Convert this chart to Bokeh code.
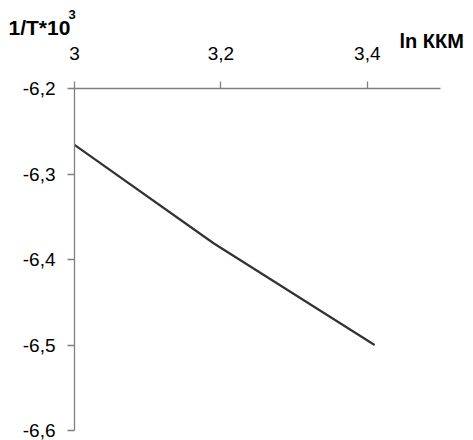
from bokeh.plotting import figure
from bokeh.models import FixedTicker, Label
from bokeh.embed import file_html
from bokeh.resources import INLINE

# data
ln_kkm = [3.0, 3.19, 3.41]
inv_t = [-6.266, -6.381, -6.5]

x_ticks = [3.0, 3.2, 3.4]
x_tick_labels = ["3", "3,2", "3,4"]
y_ticks = [-6.2, -6.3, -6.4, -6.5, -6.6]
y_tick_labels = ["-6,2", "-6,3", "-6,4", "-6,5", "-6,6"]

W, H = 473, 440
# plot area in pixels (left, top, right, bottom) used to extend the ranges
L, T, R, B = 74, 88, 440, 430
x0, x1 = 3.0, 3.5
y0, y1 = -6.6, -6.2
kx = (R - L) / (x1 - x0)
ky = (B - T) / (y1 - y0)
xr = (x0 - L / kx, x1 + (W - R) / kx)
yr = (y0 - (H - B) / ky, y1 + T / ky)

p = figure(width=W, height=H, output_backend="svg", toolbar_location=None,
           x_range=xr, y_range=yr, x_axis_location="above",
           min_border_left=0, min_border_right=0,
           min_border_top=0, min_border_bottom=0)
p.outline_line_color = None
p.xgrid.visible = False
p.ygrid.visible = False
p.background_fill_color = "white"
p.border_fill_color = "white"

p.line(ln_kkm, inv_t, line_color="#333333", line_width=2.2)

FONT = "Liberation Sans"
for ax in (p.xaxis[0], p.yaxis[0]):
    ax.axis_line_color = "#808080"
    ax.axis_line_width = 1.3
    ax.major_tick_line_color = "#808080"
    ax.major_tick_line_width = 1.3
    ax.major_tick_out = 7
    ax.major_tick_in = 0
    ax.minor_tick_line_color = None
    ax.major_label_text_font = FONT
    ax.major_label_text_font_size = "19px"
    ax.major_label_text_color = "black"

xa, ya = p.xaxis[0], p.yaxis[0]
xa.fixed_location = y1
xa.bounds = (x0, x1)
xa.ticker = FixedTicker(ticks=x_ticks)
xa.major_label_overrides = {t: l for t, l in zip(x_ticks, x_tick_labels)}
xa.major_label_standoff = 22
ya.fixed_location = x0
ya.bounds = (y0, y1)
ya.ticker = FixedTicker(ticks=y_ticks)
ya.major_label_overrides = {t: l for t, l in zip(y_ticks, y_tick_labels)}
ya.major_label_standoff = 12

# screen units measured from the bottom-left of the (full-canvas) frame
p.add_layout(Label(x=8, y=H - 27, x_units="screen", y_units="screen",
                   text="1/T*10", text_font=FONT, text_font_style="bold",
                   text_font_size="21px", text_color="black",
                   text_baseline="alphabetic"))
p.add_layout(Label(x=68, y=H - 14, x_units="screen", y_units="screen",
                   text="3", text_font=FONT, text_font_style="bold",
                   text_font_size="13px", text_color="black",
                   text_baseline="alphabetic"))
p.add_layout(Label(x=399, y=H - 40, x_units="screen", y_units="screen",
                   text="ln ККМ", text_font=FONT, text_font_style="bold",
                   text_font_size="20px", text_color="black",
                   text_baseline="alphabetic"))

open("out.html", "w").write(file_html(p, INLINE))
